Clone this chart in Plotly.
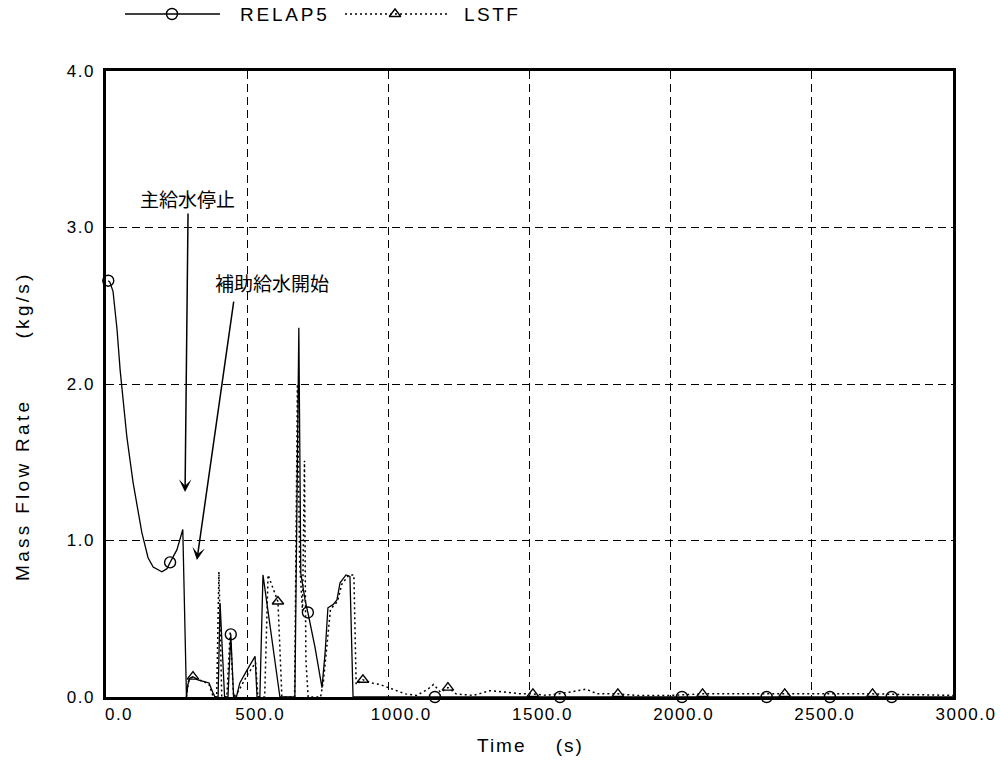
import plotly.graph_objects as go

# ---- RELAP5 calculation (solid line) ----
relap_t = [8, 14, 25, 39, 50, 61, 74, 96, 127, 149, 167, 198, 216, 227, 251, 272,
           285, 290, 297, 308, 325, 345, 365, 378, 386, 397, 404, 420, 432, 442, 452,
           462, 474, 499, 528, 535, 545, 556, 616, 669, 683, 690, 705, 715, 740, 765,
           776, 786, 804, 818, 829, 850, 864, 875, 1000, 1165, 1608, 2040, 2340, 2564,
           2783, 3000]
relap_v = [2.66, 2.65, 2.59, 2.35, 2.09, 1.88, 1.66, 1.37, 1.05, 0.89, 0.83, 0.80, 0.82,
           0.86, 0.94, 1.07,
           0.0, 0.08, 0.12, 0.13, 0.11, 0.10, 0.09, 0.03, 0.0, 0.0, 0.60, 0.0, 0.0, 0.40,
           0.0,
           0.0, 0.09, 0.17, 0.26, 0.0, 0.0, 0.78, 0.0, 0.0, 2.36, 0.79, 0.62, 0.54, 0.32,
           0.06,
           0.28, 0.57, 0.59, 0.62, 0.73, 0.78, 0.77, 0.0, 0.0, 0.0, 0.0, 0.0, 0.0, 0.0,
           0.0, 0.0]
relap_mark_t = [8, 227, 442, 715, 1165, 1608, 2040, 2340, 2564, 2783]
relap_mark_v = [2.66, 0.86, 0.40, 0.54, 0.0, 0.0, 0.0, 0.0, 0.0, 0.0]

# ---- LSTF experiment (dotted line) ----
lstf_t = [285, 292, 300, 308, 325, 345, 365, 380, 392, 400, 410, 428, 440, 452, 470,
          500, 530, 538, 562, 574, 609, 623, 668, 678, 686, 696, 703, 708, 716, 760,
          770, 782, 795, 820, 835, 860, 878, 886, 910, 940, 970, 1000, 1030, 1060, 1100,
          1140, 1160, 1185, 1211, 1240, 1300, 1360, 1420, 1470, 1512, 1560, 1640, 1700,
          1740, 1813, 1880, 2000, 2113, 2404, 2715, 3000]
lstf_v = [0.0, 0.10, 0.12, 0.13, 0.11, 0.10, 0.08, 0.0, 0.0, 0.80, 0.0, 0.0, 0.42,
          0.0, 0.04,
          0.14, 0.22, 0.0, 0.0, 0.78, 0.61, 0.0, 0.0, 2.0, 0.85, 0.55, 1.51, 0.24, 0.0,
          0.0,
          0.10, 0.30, 0.56, 0.61, 0.72, 0.78, 0.78, 0.08, 0.11, 0.09, 0.08, 0.06, 0.04,
          0.02, 0.01,
          0.05, 0.08, 0.03, 0.06, 0.02, 0.01, 0.04, 0.03, 0.02, 0.02, 0.01, 0.03, 0.05,
          0.02, 0.02, 0.01, 0.01, 0.02, 0.02, 0.02, 0.01]
lstf_mark_t = [308, 609, 910, 1211, 1512, 1813, 2113, 2404, 2715]
lstf_mark_v = [0.13, 0.61, 0.11, 0.06, 0.02, 0.02, 0.02, 0.02, 0.02]

# ---- axis ticks ----
x_tick_vals = [0, 500, 1000, 1500, 2000, 2500, 3000]
x_tick_text = ["0.0", "500.0", "1000.0", "1500.0", "2000.0", "2500.0", "3000.0"]
y_tick_vals = [0, 1, 2, 3, 4]
y_tick_text = ["0.0", "1.0", "2.0", "3.0", "4.0"]

FONT = "Liberation Sans, Arial, Helvetica, sans-serif"
CJK = "Noto Sans CJK JP, Noto Sans CJK SC, sans-serif"


def spaced(s, px):
    return f'<span style="letter-spacing:{px}px">{s}</span>'


fig = go.Figure()

fig.add_trace(go.Scatter(x=relap_t, y=relap_v, mode="lines", name="RELAP5",
                         line=dict(color="black", width=1.3), cliponaxis=False,
                         showlegend=False))
fig.add_trace(go.Scatter(x=relap_mark_t, y=relap_mark_v, mode="markers",
                         marker=dict(symbol="circle-open", size=11, color="black",
                                     line=dict(width=1.4)),
                         cliponaxis=False, showlegend=False))
fig.add_trace(go.Scatter(x=lstf_t, y=lstf_v, mode="lines", name="LSTF",
                         line=dict(color="black", width=1.5, dash="2px,3px"),
                         cliponaxis=False, showlegend=False))
fig.add_trace(go.Scatter(x=lstf_mark_t, y=lstf_mark_v, mode="markers",
                         marker=dict(symbol="triangle-up-open", size=10, color="black",
                                     line=dict(width=1.4)),
                         cliponaxis=False, showlegend=False))

# key drawn on a full-figure overlay axis in pixel units
key_y = 14
fig.add_trace(go.Scatter(x=[125, 220], y=[key_y, key_y], mode="lines",
                         line=dict(color="black", width=1.5), xaxis="x2", yaxis="y2",
                         showlegend=False, hoverinfo="skip"))
fig.add_trace(go.Scatter(x=[172], y=[key_y], mode="markers",
                         marker=dict(symbol="circle-open", size=11, color="black",
                                     line=dict(width=1.4)),
                         xaxis="x2", yaxis="y2", showlegend=False, hoverinfo="skip"))
fig.add_trace(go.Scatter(x=[345, 447], y=[key_y, key_y], mode="lines",
                         line=dict(color="black", width=1.5, dash="2px,3px"),
                         xaxis="x2", yaxis="y2", showlegend=False, hoverinfo="skip"))
fig.add_trace(go.Scatter(x=[395], y=[key_y], mode="markers",
                         marker=dict(symbol="triangle-up-open", size=10, color="black",
                                     line=dict(width=1.4)),
                         xaxis="x2", yaxis="y2", showlegend=False, hoverinfo="skip"))

annotations = [
    dict(x=238, y=key_y, xref="x2", yref="y2", text=spaced("RELAP5", 2.8),
         showarrow=False, xanchor="left", yanchor="middle",
         font=dict(family=FONT, size=19, color="black")),
    dict(x=462, y=key_y, xref="x2", yref="y2", text=spaced("LSTF", 2.5),
         showarrow=False, xanchor="left", yanchor="middle",
         font=dict(family=FONT, size=19, color="black")),
    # axis titles
    dict(x=0.530, y=1 - 745 / 762, xref="paper", yref="paper",
         text=spaced("Time\u00a0\u00a0\u00a0\u00a0(s)", 2), showarrow=False,
         xanchor="center", yanchor="middle",
         font=dict(family=FONT, size=19, color="black")),
    dict(x=0.022, y=1 - 426 / 762, xref="paper", yref="paper", textangle=-90,
         text=spaced("Mass Flow Rate\u00a0\u00a0\u00a0\u00a0\u00a0\u00a0\u00a0(kg/s)", 3.3),
         showarrow=False, xanchor="center", yanchor="middle",
         font=dict(family=FONT, size=19, color="black")),
    # event labels with arrows
    dict(x=187, y=198, xref="x2", yref="y2", text="主給水停止", showarrow=False,
         xanchor="center", yanchor="middle",
         font=dict(family=CJK, size=19, color="black")),
    dict(x=280, y=1.31, xref="x", yref="y", text="", showarrow=True,
         ax=3, ay=-280, arrowhead=3, arrowsize=1.4, arrowwidth=1.5,
         arrowcolor="black"),
    dict(x=272, y=282, xref="x2", yref="y2", text="補助給水開始", showarrow=False,
         xanchor="center", yanchor="middle",
         font=dict(family=CJK, size=19, color="black")),
    dict(x=322, y=0.875, xref="x", yref="y", text="", showarrow=True,
         ax=37, ay=-260, arrowhead=3, arrowsize=1.4, arrowwidth=1.5,
         arrowcolor="black"),
]

fig.update_layout(
    width=1000, height=762,
    margin=dict(l=0, r=0, t=0, b=0, autoexpand=False),
    paper_bgcolor="white", plot_bgcolor="rgba(0,0,0,0)",
    showlegend=False,
    annotations=annotations,
    xaxis=dict(domain=[0.106, 0.953], range=[0, 3000], automargin=False,
               tickvals=x_tick_vals, ticktext=[spaced(s, 1.5) for s in x_tick_text],
               ticklabelshift=13, ticks="", showgrid=True, gridcolor="black",
               gridwidth=1.2, griddash="8px,5px", zeroline=False,
               showline=True, linecolor="black", linewidth=2.5, mirror=True,
               tickfont=dict(family=FONT, size=17, color="black")),
    yaxis=dict(domain=[65 / 762, 691 / 762], range=[0, 4], automargin=False,
               tickvals=y_tick_vals, ticktext=[spaced(s, 1.5) for s in y_tick_text],
               ticks="outside", ticklen=5, tickcolor="rgba(0,0,0,0)",
               showgrid=True, gridcolor="black",
               gridwidth=1.2, griddash="8px,5px", zeroline=False,
               showline=True, linecolor="black", linewidth=2.5, mirror=True,
               tickfont=dict(family=FONT, size=17, color="black")),
    xaxis2=dict(domain=[0, 1], range=[0, 1000], anchor="y2", visible=False,
                fixedrange=True, automargin=False),
    yaxis2=dict(domain=[0, 1], range=[762, 0], anchor="x2", visible=False,
                fixedrange=True, automargin=False),
)

fig.write_html("out.html")
